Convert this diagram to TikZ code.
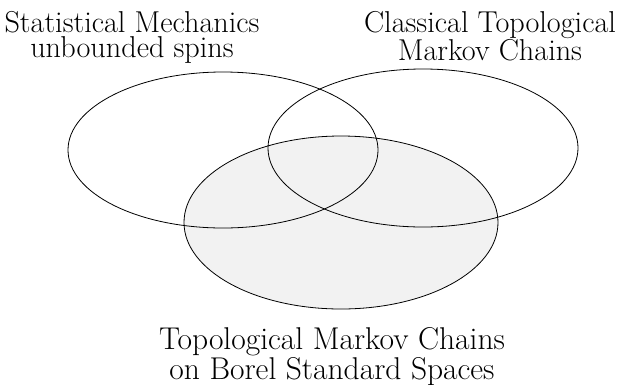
\documentclass[tikz,border=0pt]{standalone}
\usetikzlibrary{positioning}
\begin{document}
\begin{tikzpicture}[x=1pt,y=-1pt]
  \tikzstyle{setline}=[line width=0.8pt]
  \tikzstyle{lbl}=[align=center,inner sep=0pt,anchor=north,font=\fontsize{30.2}{25}\selectfont]
  \useasboundingbox (0,0) rectangle (633,384);
  % shaded set first, outlines on top
  \fill[black!5] (341,222.5) ellipse [x radius=157,y radius=86.5];
  \draw[setline] (223,150) ellipse [x radius=155,y radius=78];
  \draw[setline] (423,148) ellipse [x radius=155,y radius=79];
  \draw[setline] (341,222.5) ellipse [x radius=157,y radius=86.5];
  \node[lbl] (statmech) at (132,11.2) {Statistical Mechanics\\unbounded spins};
  \node[lbl] (classic) at (490,11.2) {Classical Topological\\Markov Chains};
  \node[lbl,font=\fontsize{31.5}{26}\selectfont] (borel) at (332,327.5) {Topological Markov Chains\\on Borel Standard Spaces};
\end{tikzpicture}
\end{document}
